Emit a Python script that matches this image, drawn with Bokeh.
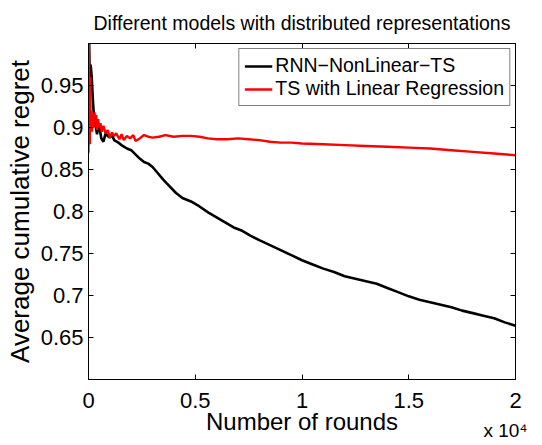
from bokeh.plotting import figure
from bokeh.models import (LinearAxis, FixedTicker, Range1d, Legend, LegendItem, Title,
                          CustomJSTickFormatter)
from bokeh.embed import file_html
from bokeh.resources import INLINE

FONT = "Liberation Sans"

title_text = "Different models with distributed representations"
x_label = "Number of rounds"
y_label = "Average cumulative regret"
series_names = ["RNN\u2212NonLinear\u2212TS", "TS with Linear Regression"]
x_exponent = "x 10\u2074"

x_ticks = [0, 5000, 10000, 15000, 20000]
x_tick_labels = ["0", "0.5", "1", "1.5", "2"]
y_ticks = [0.65, 0.7, 0.75, 0.8, 0.85, 0.9, 0.95]
y_tick_labels = ["0.65", "0.7", "0.75", "0.8", "0.85", "0.9", "0.95"]

rnn_x = [0, 30, 60, 100, 150, 200, 250, 300, 350, 400, 450, 500, 550, 600, 700, 800, 900,
         1000, 1100, 1200, 1400, 1600, 1800, 2000, 2200, 2400, 2600, 2800, 3000, 3200, 3500,
         3800, 4100, 4400, 4800, 5200, 5600, 6000, 6400, 6800, 7200, 7600, 8000, 8500, 9000,
         9500, 10000, 10500, 11000, 11500, 12000, 12500, 13000, 13500, 14000, 14500, 15000,
         15500, 16000, 16500, 17000, 17500, 18000, 18500, 19000, 19500, 20000]
rnn_y = [0.99, 1.0, 0.95, 0.975, 0.96, 0.935, 0.915, 0.905, 0.9, 0.892, 0.9, 0.905, 0.895,
         0.887, 0.883, 0.893, 0.89, 0.888, 0.891, 0.885, 0.882, 0.878, 0.875, 0.873, 0.868,
         0.863, 0.859, 0.857, 0.853, 0.847, 0.838, 0.83, 0.822, 0.816, 0.812, 0.806, 0.799,
         0.793, 0.787, 0.781, 0.777, 0.771, 0.766, 0.76, 0.754, 0.748, 0.742, 0.737, 0.732,
         0.728, 0.723, 0.72, 0.717, 0.714, 0.709, 0.704, 0.699, 0.695, 0.692, 0.689, 0.686,
         0.682, 0.679, 0.676, 0.673, 0.668, 0.664]

lin_x = [0, 20, 40, 60, 80, 100, 130, 160, 200, 240, 280, 320, 360, 400, 450, 500, 560, 620,
         700, 800, 900, 1000, 1100, 1200, 1300, 1450, 1550, 1650, 1800, 1950, 2100, 2200,
         2400, 2600, 2800, 3000, 3300, 3600, 4000, 4400, 4800, 5200, 5600, 6000, 6500, 7000,
         7500, 8000, 8500, 9000, 9500, 10000, 11000, 12000, 13000, 14000, 15000, 16000,
         17000, 18000, 19000, 20000]
lin_y = [0.87, 1.0, 0.93, 0.88, 0.96, 0.9, 0.92, 0.895, 0.915, 0.9, 0.918, 0.905, 0.915,
         0.897, 0.91, 0.9, 0.905, 0.895, 0.902, 0.893, 0.897, 0.888, 0.894, 0.89, 0.893,
         0.886, 0.892, 0.885, 0.89, 0.887, 0.891, 0.884, 0.887, 0.891, 0.889, 0.888, 0.889,
         0.891, 0.889, 0.89, 0.89, 0.889, 0.887, 0.886, 0.886, 0.887, 0.886, 0.885, 0.883,
         0.882, 0.882, 0.881, 0.88, 0.879, 0.878, 0.877, 0.876, 0.875, 0.873, 0.871, 0.869,
         0.867]

p = figure(width=534, height=437, output_backend="svg", toolbar_location=None,
           x_range=Range1d(0, 20000), y_range=Range1d(0.6, 1.0),
           min_border_left=88, min_border_right=19, min_border_top=43, min_border_bottom=55)
p.title.text = title_text
p.title.text_font = FONT
p.title.text_font_size = "19.5px"
p.title.text_font_style = "normal"
p.title.text_color = "black"
p.title.align = "center"
p.title.offset = 0
p.title.standoff = 19

p.background_fill_color = "white"
p.border_fill_color = "white"
p.outline_line_color = "black"
p.outline_line_width = 1
p.xgrid.visible = False
p.ygrid.visible = False

xfmt = CustomJSTickFormatter(args=dict(t=x_ticks, l=x_tick_labels),
                             code="const i = t.indexOf(tick); return i >= 0 ? l[i] : '';")
yfmt = CustomJSTickFormatter(args=dict(t=y_ticks, l=y_tick_labels),
                             code="let b=-1; for (let i=0;i<t.length;i++){ if (Math.abs(t[i]-tick)<1e-9) b=i;} return b>=0 ? l[b] : '';")
blank = CustomJSTickFormatter(code="return '';")


def style_axis(ax, show_labels=True):
    ax.major_tick_in = 5
    ax.major_tick_out = 0
    ax.minor_tick_in = 0
    ax.minor_tick_out = 0
    ax.axis_line_color = "black"
    ax.major_tick_line_color = "black"
    ax.major_label_text_font = FONT
    ax.major_label_text_color = "black"
    ax.axis_label_text_font = FONT
    ax.axis_label_text_font_style = "normal"
    ax.axis_label_text_color = "black"
    if not show_labels:
        ax.formatter = blank
        ax.major_label_text_font_size = "1px"
        ax.major_label_standoff = 0


xa = p.xaxis[0]
xa.ticker = FixedTicker(ticks=x_ticks)
xa.formatter = xfmt
style_axis(xa)
xa.major_label_text_font_size = "22px"
xa.major_label_standoff = 13
xa.axis_label = x_label
xa.axis_label_text_font_size = "24px"
xa.axis_label_standoff = -3

ya = p.yaxis[0]
ya.ticker = FixedTicker(ticks=y_ticks)
ya.formatter = yfmt
style_axis(ya)
ya.major_label_text_font_size = "22px"
ya.major_label_standoff = 5
ya.axis_label = y_label
ya.axis_label_text_font_size = "26px"
ya.axis_label_standoff = 3

top = LinearAxis(ticker=FixedTicker(ticks=x_ticks))
style_axis(top, False)
p.add_layout(top, "above")
right = LinearAxis(ticker=FixedTicker(ticks=y_ticks))
style_axis(right, False)
p.add_layout(right, "right")

exp_title = Title(text=x_exponent, align="right", vertical_align="top", text_font=FONT,
                  text_font_size="19px", text_font_style="normal", text_color="black",
                  standoff=-36, offset=-12)
p.add_layout(exp_title, "below")

r1 = p.line(rnn_x, rnn_y, line_color="black", line_width=2.6)
r2 = p.line(lin_x, lin_y, line_color="#ff0000", line_width=2.4)

legend = Legend(items=[LegendItem(label=series_names[0], renderers=[r1]),
                       LegendItem(label=series_names[1], renderers=[r2])],
                location="top_right")
legend.label_text_font = FONT
legend.label_text_font_size = "19.5px"
legend.label_text_color = "black"
legend.border_line_color = "black"
legend.border_line_width = 1
legend.background_fill_alpha = 1
legend.margin = 5
legend.padding = 5
legend.spacing = -10
legend.glyph_width = 28
legend.glyph_height = 16
legend.label_height = 16
legend.label_standoff = 3
p.add_layout(legend, "center")

open("out.html", "w").write(file_html(p, INLINE))
